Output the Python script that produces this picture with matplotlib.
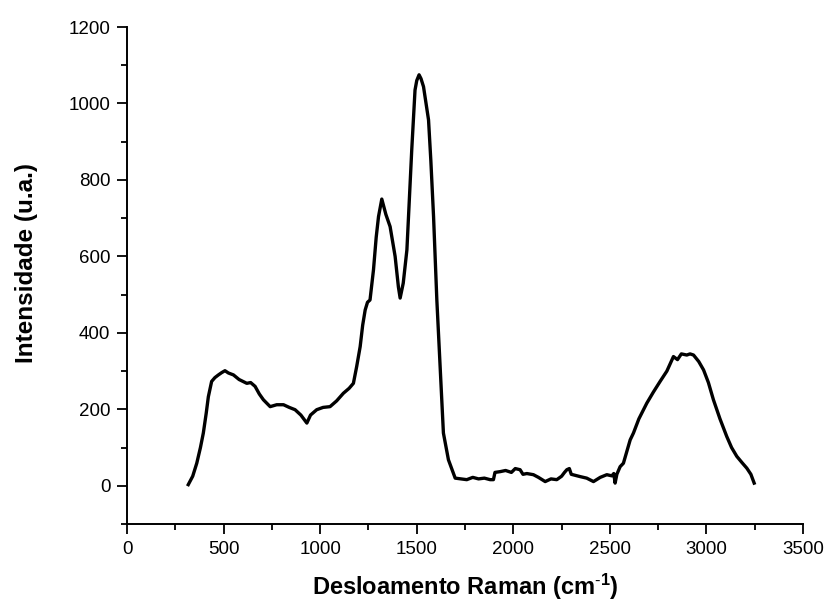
import matplotlib
matplotlib.use("Agg")
import matplotlib.pyplot as plt
from matplotlib.ticker import MultipleLocator

raman_shift = [317, 340, 361, 380, 395, 410, 421, 438, 455, 473, 490, 507, 525, 551, 580,
               620, 640, 663, 685, 706, 741, 775, 810, 840, 870, 900, 931, 950, 982, 1015,
               1051, 1085, 1120, 1150, 1172, 1189, 1207, 1220, 1233, 1245, 1258, 1276, 1290,
               1302, 1319, 1340, 1362, 1388, 1405, 1414, 1430, 1449, 1466, 1474, 1491, 1500,
               1512, 1522, 1535, 1561, 1573, 1587, 1604, 1621, 1638, 1664, 1699, 1730, 1759,
               1790, 1820, 1850, 1880, 1897, 1905, 1932, 1960, 1990, 2010, 2035, 2050, 2070,
               2104, 2130, 2165, 2195, 2225, 2250, 2265, 2277, 2290, 2300, 2346, 2380, 2415,
               2450, 2484, 2510, 2520, 2527, 2536, 2553, 2570, 2605, 2622, 2650, 2691, 2725,
               2760, 2795, 2829, 2850, 2870, 2898, 2915, 2933, 2960, 2985, 3010, 3036, 3070,
               3105, 3130, 3157, 3185, 3209, 3230, 3247]
intensity = [3, 25, 59, 100, 138, 190, 233, 273, 283, 290, 296, 301, 295, 290, 278,
             268, 270, 260, 240, 225, 207, 212, 212, 205, 199, 185, 164, 185, 199, 205,
             207, 222, 242, 255, 268, 312, 364, 420, 460, 480, 486, 565, 650,
             704, 750, 710, 678, 600, 520, 491, 530, 617, 791, 878, 1035, 1060,
             1075, 1065, 1044, 957, 850, 704, 486, 312, 138, 68, 20, 18, 16,
             22, 18, 20, 16, 16, 35, 37, 40, 35, 45, 42, 30, 32,
             29, 22, 11, 18, 16, 25, 35, 42, 45, 30, 24, 20, 11,
             22, 29, 26, 32, 7, 30, 50, 59, 120, 138, 175, 216, 245,
             273, 300, 338, 330, 345, 342, 345, 342, 325, 303, 270, 225, 175,
             129, 100, 77, 60, 46, 30, 7]

plt.rcParams['font.family'] = ['Liberation Sans', 'DejaVu Sans']
plt.rcParams['mathtext.fontset'] = 'custom'
plt.rcParams['mathtext.rm'] = 'Liberation Sans'
plt.rcParams['mathtext.bf'] = 'Liberation Sans:bold'

fig = plt.figure(figsize=(8.26, 6.06), dpi=100)
ax = fig.add_axes([0.1538, 0.1353, 0.8184, 0.8201])

ax.plot(raman_shift, intensity, color='black', linewidth=2.4, solid_joinstyle='round')

ax.set_xlim(0, 3500)
ax.set_ylim(-100, 1200)
ax.xaxis.set_major_locator(MultipleLocator(500))
ax.xaxis.set_minor_locator(MultipleLocator(250))
ax.yaxis.set_major_locator(MultipleLocator(200))
ax.yaxis.set_minor_locator(MultipleLocator(100))

for side in ['top', 'right']:
    ax.spines[side].set_visible(False)
for side in ['left', 'bottom']:
    ax.spines[side].set_linewidth(1.4)

ax.tick_params(which='major', direction='out', length=7, width=1.3, labelsize=13.5, pad=5)
ax.tick_params(which='minor', direction='out', length=4, width=1.3)

ax.set_xlabel('Desloamento Raman (cm$\\mathbf{^{\\text{-}1}}$)', fontsize=17, fontweight='bold', labelpad=10)
ax.set_ylabel('Intensidade (u.a.)', fontsize=17.5, fontweight='bold')
ax.yaxis.set_label_coords(-0.132, 0.525)

fig.savefig('out.png', dpi=100)
